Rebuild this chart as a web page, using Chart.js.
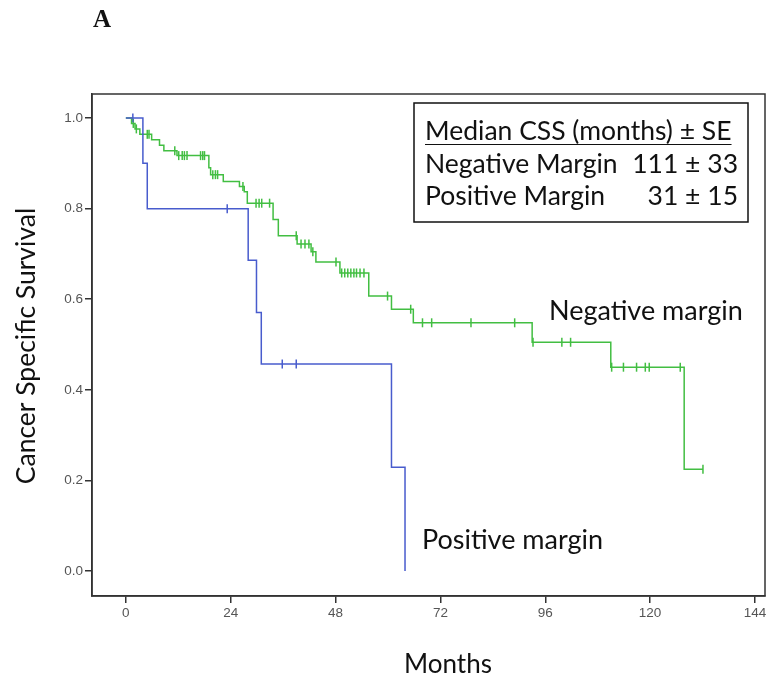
<!DOCTYPE html>
<html>
<head>
<meta charset="utf-8">
<script src="https://cdn.jsdelivr.net/npm/chart.js@4"></script>
<style>
  html, body { margin: 0; padding: 0; background: #fff; }
  #wrap { width: 771px; height: 681px; }
</style>
</head>
<body>
<div id="wrap"><canvas id="km" width="771" height="681"></canvas></div>
<script>
// Kaplan-Meier ступени: время (месяцы) и выживаемость после события
const negTimes = [0, 1.3, 2.1, 3.2, 5.9, 7.7, 8.7, 11.7, 19.0, 19.4, 22.3, 26.0, 27.1, 27.8, 33.7, 34.9, 39.2, 42.4, 43.5, 49.0, 55.6, 60.8, 65.8, 93.0, 111.0, 127.8, 132.1];
const negSurv  = [1.0, 0.988, 0.976, 0.964, 0.952, 0.940, 0.928, 0.917, 0.890, 0.875, 0.860, 0.849, 0.837, 0.812, 0.776, 0.740, 0.722, 0.705, 0.682, 0.658, 0.607, 0.578, 0.548, 0.505, 0.450, 0.225, 0.225];
const negCensored = [1.7, 2.4, 4.9, 5.3, 11.2, 12.1, 12.9, 13.4, 14.0, 17.1, 17.6, 18.0, 19.9, 20.5, 21.0, 26.8, 29.8, 30.5, 31.1, 32.9,
                     39.0, 40.1, 41.0, 41.9, 42.8, 48.1, 49.4, 50.1, 50.8, 51.5, 52.2, 52.8, 53.6, 54.5, 59.9, 65.2,
                     67.9, 70.0, 79.0, 89.0, 93.2, 99.8, 101.8, 111.2, 113.9, 116.9, 118.9, 119.8, 126.9, 132.1];

const posTimes = [0, 3.9, 4.9, 28.0, 29.9, 31.0, 60.8, 63.9];
const posSurv  = [1.0, 0.9, 0.8, 0.686, 0.571, 0.457, 0.229, 0.0];
const posCensored = [1.6, 23.2, 35.8, 39.0];

const xTicks = [0, 24, 48, 72, 96, 120, 144];
const yTicks = [0, 0.2, 0.4, 0.6, 0.8, 1.0];

const tableHeader = 'Median CSS (months) ± SE';
const tableRows = [
    ['Negative Margin', '111 ± 33'],
    ['Positive Margin', '31 ± 15']
];

const GREEN = 'rgb(66, 190, 66)';
const BLUE = 'rgb(72, 92, 205)';

// значение кривой в момент t (для меток цензурирования)
function survAt(times, surv, t) {
    let s = surv[0];
    for (let i = 0; i < times.length; i++) {
        if (times[i] <= t) s = surv[i];
    }
    return s;
}

const toPoints = (tt, ss) => tt.map((t, i) => ({ x: t, y: ss[i] }));
const censorPoints = (cc, tt, ss) => cc.map(t => ({ x: t, y: survAt(tt, ss, t) }));

const censorStyle = {
    type: 'scatter',
    pointStyle: 'line',
    rotation: 90,
    pointRadius: 4.5,
    pointBorderWidth: 1.5,
    showLine: false
};

const textPlugin = {
    id: 'texts',
    afterDraw(chart) {
        const ctx = chart.ctx;
        const a = chart.chartArea;
        ctx.save();
        // рамка области графика
        ctx.strokeStyle = '#333';
        ctx.lineWidth = 1.5;
        ctx.strokeRect(a.left, a.top, a.right - a.left, a.bottom - a.top);

        ctx.fillStyle = '#111';
        ctx.font = 'bold 25px "Liberation Serif"';
        ctx.textBaseline = 'alphabetic';
        ctx.textAlign = 'left';
        ctx.fillText('A', 93, 27);

        // таблица медиан
        ctx.strokeStyle = '#111';
        ctx.lineWidth = 1.5;
        ctx.strokeRect(414, 103, 334, 119);
        ctx.font = '26.5px Lato';
        ctx.fillText(tableHeader, 425, 140);
        const w = ctx.measureText(tableHeader).width;
        ctx.lineWidth = 1.2;
        ctx.beginPath();
        ctx.moveTo(425, 144.5);
        ctx.lineTo(425 + w, 144.5);
        ctx.stroke();
        tableRows.forEach((r, i) => {
            const y = 173 + i * 32;
            ctx.textAlign = 'left';
            ctx.fillText(r[0], 425, y);
            ctx.textAlign = 'right';
            ctx.fillText(r[1], 738, y);
        });

        ctx.textAlign = 'left';
        ctx.font = '27px Lato';
        ctx.fillText('Negative margin', 549, 320);
        ctx.fillText('Positive margin', 422, 549);

        ctx.textAlign = 'center';
        ctx.font = '26px Lato';
        ctx.fillText('Months', 448, 673);

        ctx.font = '26.5px Lato';
        ctx.translate(35, 346);
        ctx.rotate(-Math.PI / 2);
        ctx.fillText('Cancer Specific Survival', 0, 0);
        ctx.restore();
    }
};

const axisCommon = {
    type: 'linear',
    grid: { drawOnChartArea: false, drawTicks: true, tickLength: 7, color: '#333', lineWidth: 1.5 },
    border: { display: true, color: '#333', width: 1.5 },
    ticks: { color: '#555', font: { family: '"Liberation Sans"', size: 13.5 }, autoSkip: false, maxRotation: 0 }
};

new Chart(document.getElementById('km'), {
    type: 'line',
    data: {
        datasets: [
            { data: toPoints(posTimes, posSurv), borderColor: BLUE, borderWidth: 1.5, stepped: true, pointRadius: 0, fill: false },
            { data: toPoints(negTimes, negSurv), borderColor: GREEN, borderWidth: 1.5, stepped: true, pointRadius: 0, fill: false },
            Object.assign({ data: censorPoints(posCensored, posTimes, posSurv), borderColor: BLUE, backgroundColor: BLUE }, censorStyle),
            Object.assign({ data: censorPoints(negCensored, negTimes, negSurv), borderColor: GREEN, backgroundColor: GREEN }, censorStyle)
        ]
    },
    options: {
        responsive: false,
        animation: false,
        devicePixelRatio: 1,
        layout: { padding: { top: 94, right: 3, left: 0, bottom: 0 } },
        plugins: { legend: { display: false }, tooltip: { enabled: false } },
        scales: {
            x: Object.assign({}, axisCommon, {
                min: -7.75, max: 146.3,
                afterBuildTicks: s => { s.ticks = xTicks.map(v => ({ value: v })); },
                afterFit: s => { s.height = 85; },
                ticks: Object.assign({}, axisCommon.ticks, { padding: 2 })
            }),
            y: Object.assign({}, axisCommon, {
                min: -0.055, max: 1.053,
                afterBuildTicks: s => { s.ticks = yTicks.map(v => ({ value: v })); },
                afterFit: s => { s.width = 92; },
                ticks: Object.assign({}, axisCommon.ticks, { padding: 2, callback: v => v.toFixed(1) })
            })
        }
    },
    plugins: [textPlugin]
});
</script>
</body>
</html>
